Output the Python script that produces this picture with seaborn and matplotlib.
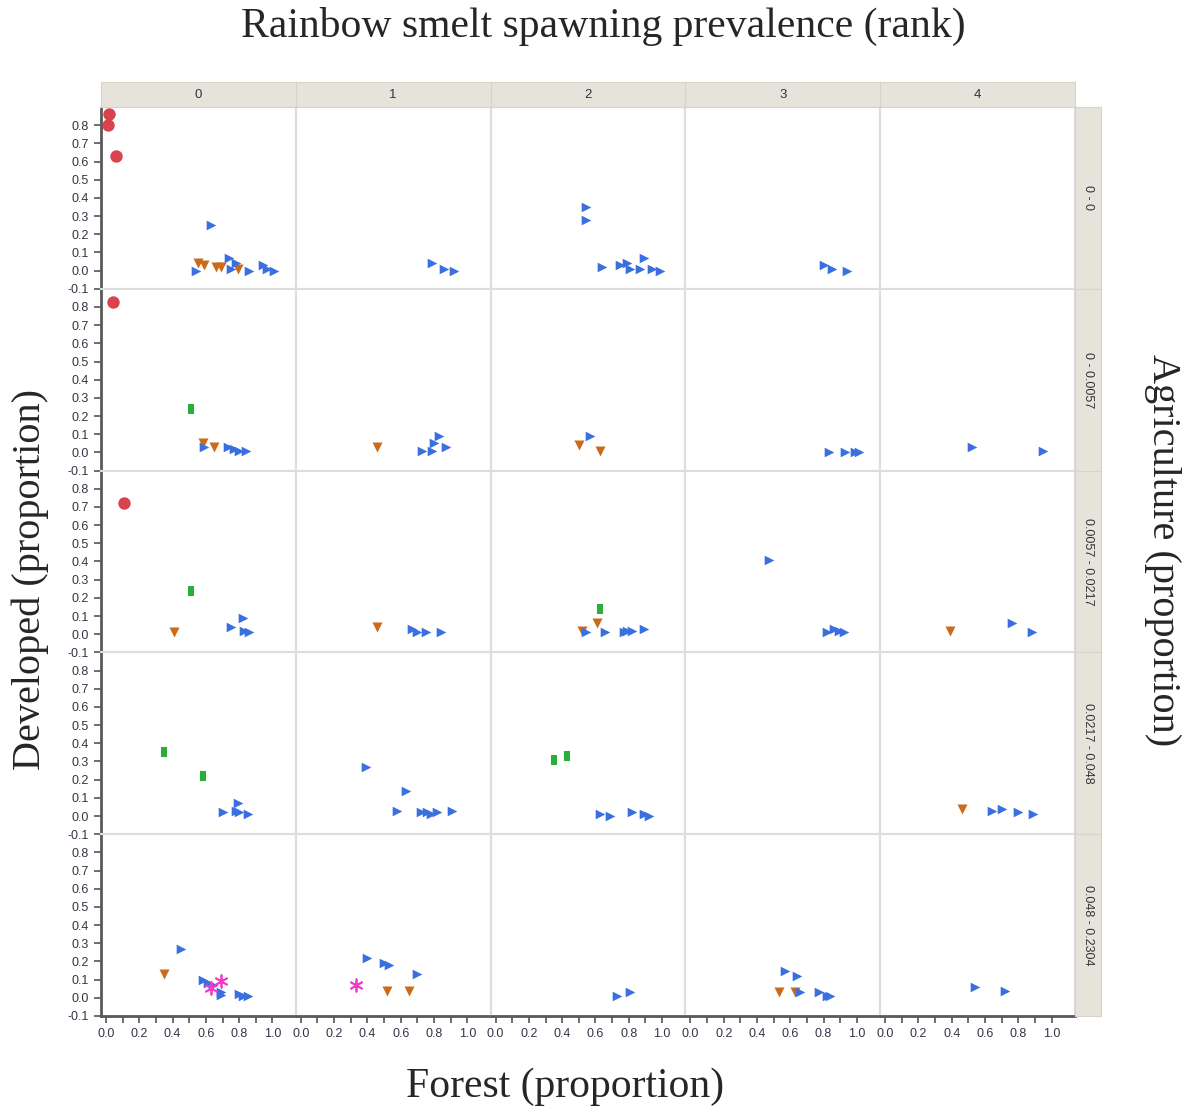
import pandas as pd
import numpy as np
import matplotlib.pyplot as plt
import seaborn as sns
from matplotlib.ticker import FixedLocator

# Facet levels
rank_levels = [0, 1, 2, 3, 4]
agri_levels = ["0 - 0", "0 - 0.0057", "0.0057 - 0.0217", "0.0217 - 0.048", "0.048 - 0.2304"]

# Points per group: (agriculture bin index, rank, forest, developed)
group_a = [(0, 0, 0.02, 0.86), (0, 0, 0.01, 0.80), (0, 0, 0.06, 0.63),
           (1, 0, 0.04, 0.83), (2, 0, 0.11, 0.72)]

group_c = [(1, 0, 0.51, 0.24), (2, 0, 0.51, 0.24), (2, 2, 0.63, 0.14),
           (3, 0, 0.35, 0.35), (3, 0, 0.58, 0.22), (3, 2, 0.35, 0.31), (3, 2, 0.43, 0.33)]

group_e = [(4, 0, 0.69, 0.09), (4, 0, 0.63, 0.055), (4, 1, 0.33, 0.07)]

group_d = [(0, 0, 0.55, 0.04), (0, 0, 0.59, 0.03), (0, 0, 0.66, 0.02), (0, 0, 0.69, 0.02), (0, 0, 0.79, 0.01),
           (1, 0, 0.58, 0.05), (1, 0, 0.65, 0.03), (1, 1, 0.46, 0.03), (1, 2, 0.50, 0.04), (1, 2, 0.63, 0.01),
           (2, 0, 0.41, 0.01), (2, 1, 0.46, 0.04), (2, 2, 0.52, 0.02), (2, 2, 0.61, 0.06), (2, 4, 0.39, 0.02),
           (3, 4, 0.46, 0.04),
           (4, 0, 0.35, 0.13), (4, 1, 0.52, 0.04), (4, 1, 0.65, 0.04), (4, 3, 0.53, 0.03), (4, 3, 0.63, 0.03)]

group_b = [(0, 0, 0.63, 0.25), (0, 0, 0.54, 0.00), (0, 0, 0.74, 0.07), (0, 0, 0.78, 0.04), (0, 0, 0.75, 0.01),
           (0, 0, 0.86, 0.00), (0, 0, 0.94, 0.03), (0, 0, 0.97, 0.01), (0, 0, 1.01, 0.00),
           (0, 1, 0.79, 0.04), (0, 1, 0.86, 0.01), (0, 1, 0.92, 0.00),
           (0, 2, 0.54, 0.35), (0, 2, 0.54, 0.28), (0, 2, 0.64, 0.02), (0, 2, 0.75, 0.03), (0, 2, 0.79, 0.04),
           (0, 2, 0.81, 0.01), (0, 2, 0.89, 0.07), (0, 2, 0.87, 0.01), (0, 2, 0.94, 0.01), (0, 2, 0.99, 0.00),
           (0, 3, 0.80, 0.03), (0, 3, 0.85, 0.01), (0, 3, 0.94, 0.00),
           (1, 0, 0.59, 0.03), (1, 0, 0.73, 0.03), (1, 0, 0.77, 0.02), (1, 0, 0.80, 0.01), (1, 0, 0.84, 0.01),
           (1, 1, 0.73, 0.01), (1, 1, 0.79, 0.01), (1, 1, 0.80, 0.05), (1, 1, 0.83, 0.09), (1, 1, 0.87, 0.03),
           (1, 2, 0.57, 0.09),
           (1, 3, 0.83, 0.00), (1, 3, 0.93, 0.00), (1, 3, 0.99, 0.00), (1, 3, 1.01, 0.00),
           (1, 4, 0.52, 0.03), (1, 4, 0.95, 0.01),
           (2, 0, 0.75, 0.04), (2, 0, 0.82, 0.09), (2, 0, 0.83, 0.02), (2, 0, 0.86, 0.01),
           (2, 1, 0.67, 0.03), (2, 1, 0.70, 0.01), (2, 1, 0.75, 0.01), (2, 1, 0.84, 0.01),
           (2, 2, 0.54, 0.01), (2, 2, 0.66, 0.01), (2, 2, 0.77, 0.01), (2, 2, 0.79, 0.02), (2, 2, 0.82, 0.02),
           (2, 2, 0.89, 0.03),
           (2, 3, 0.47, 0.41), (2, 3, 0.82, 0.01), (2, 3, 0.86, 0.03), (2, 3, 0.89, 0.02), (2, 3, 0.92, 0.01),
           (2, 4, 0.76, 0.06), (2, 4, 0.88, 0.01),
           (3, 0, 0.70, 0.02), (3, 0, 0.79, 0.07), (3, 0, 0.78, 0.03), (3, 0, 0.80, 0.02), (3, 0, 0.85, 0.01),
           (3, 1, 0.39, 0.27), (3, 1, 0.63, 0.14), (3, 1, 0.58, 0.03), (3, 1, 0.72, 0.02), (3, 1, 0.76, 0.02),
           (3, 1, 0.78, 0.01), (3, 1, 0.82, 0.02), (3, 1, 0.91, 0.03),
           (3, 2, 0.63, 0.01), (3, 2, 0.69, 0.00), (3, 2, 0.82, 0.02), (3, 2, 0.89, 0.01), (3, 2, 0.92, 0.00),
           (3, 4, 0.64, 0.03), (3, 4, 0.70, 0.04), (3, 4, 0.80, 0.02), (3, 4, 0.89, 0.01),
           (4, 0, 0.45, 0.27), (4, 0, 0.58, 0.10), (4, 0, 0.61, 0.08), (4, 0, 0.64, 0.07), (4, 0, 0.69, 0.03),
           (4, 0, 0.69, 0.015), (4, 0, 0.80, 0.02), (4, 0, 0.82, 0.01), (4, 0, 0.85, 0.01),
           (4, 1, 0.40, 0.22), (4, 1, 0.50, 0.19), (4, 1, 0.53, 0.18), (4, 1, 0.70, 0.13),
           (4, 2, 0.73, 0.01), (4, 2, 0.81, 0.03),
           (4, 3, 0.57, 0.15), (4, 3, 0.64, 0.12), (4, 3, 0.66, 0.03), (4, 3, 0.77, 0.03), (4, 3, 0.82, 0.01),
           (4, 3, 0.84, 0.01),
           (4, 4, 0.54, 0.06), (4, 4, 0.72, 0.04)]

group_points = {"A": group_a, "B": group_b, "C": group_c, "D": group_d, "E": group_e}
group_order = ["A", "C", "D", "B", "E"]

# thin vertical bar marker for group C
bar_marker = [(-0.27, -0.5), (0.27, -0.5), (0.27, 0.5), (-0.27, 0.5), (-0.27, -0.5)]
group_markers = {"A": "o", "B": ">", "C": bar_marker, "D": "v", "E": (6, 2, 0)}
group_colors = {"A": "#d9434e", "B": "#3a6fe0", "C": "#2aae3a", "D": "#cc6a1c", "E": "#f03cc8"}
group_sizes = {"A": 80, "B": 48, "C": 55, "D": 52, "E": 80}

rows = []
for grp, pts in group_points.items():
    for a, r, f, d in pts:
        rows.append({"group": grp, "agri": agri_levels[a], "rank": r, "forest": f, "developed": d})
df = pd.DataFrame(rows)

y_ticks = [-0.1, 0.0, 0.1, 0.2, 0.3, 0.4, 0.5, 0.6, 0.7, 0.8]
x_ticks = [0.0, 0.2, 0.4, 0.6, 0.8, 1.0]
x_minor = [0.1, 0.3, 0.5, 0.7, 0.9]


def draw_groups(data, **kws):
    ax = plt.gca()
    for grp in group_order:
        sub = data[data["group"] == grp]
        if len(sub) == 0:
            continue
        lw = 1.3 if grp == "E" else 0
        sns.scatterplot(data=sub, x="forest", y="developed", marker=group_markers[grp],
                        color=group_colors[grp], s=group_sizes[grp], linewidth=lw,
                        edgecolor=group_colors[grp], ax=ax, zorder=3)


sns.set_style("white")
g = sns.FacetGrid(df, row="agri", col="rank", row_order=agri_levels, col_order=rank_levels,
                  sharex=True, sharey=True, despine=False, height=2, aspect=1)
g.map_dataframe(draw_groups)

fig = g.figure
fig.set_size_inches(11.93, 11.12)
fig.subplots_adjust(left=101 / 1193, right=1075 / 1193, top=1 - 107 / 1112,
                    bottom=1 - 1016 / 1112, wspace=0, hspace=0)

tick_color = "#343448"
for i in range(5):
    for j in range(5):
        ax = g.axes[i, j]
        ax.set_title("")
        ax.set_xlabel("")
        ax.set_ylabel("")
        ax.set_xlim(-0.03, 1.14)
        ax.set_ylim(-0.1, 0.9)
        ax.yaxis.set_major_locator(FixedLocator(y_ticks))
        ax.xaxis.set_major_locator(FixedLocator(x_ticks))
        ax.xaxis.set_minor_locator(FixedLocator(x_minor))
        for sp in ax.spines.values():
            sp.set_color("#dddddd")
            sp.set_linewidth(1.5)
        ax.tick_params(which="both", direction="out", length=5, width=1.2, color="#555555",
                       labelsize=9, labelcolor=tick_color,
                       left=(j == 0), bottom=(i == 4))
        if j == 0:
            ax.spines["left"].set_color("#5a5a5a")
            ax.spines["left"].set_linewidth(2)
            ax.set_yticklabels([f"{t:.1f}" for t in y_ticks], fontfamily="Liberation Sans")
        if i == 4:
            ax.spines["bottom"].set_color("#5a5a5a")
            ax.spines["bottom"].set_linewidth(2)
            ax.set_xticklabels([f"{t:.1f}" for t in x_ticks], fontfamily="Liberation Sans")

# strips
strip_bg = "#e6e4da"
for j, rk in enumerate(rank_levels):
    pos = g.axes[0, j].get_position()
    sax = fig.add_axes([pos.x0, pos.y1, pos.width, 25 / 1112])
    sax.set_facecolor(strip_bg)
    sax.set_xticks([])
    sax.set_yticks([])
    for sp in sax.spines.values():
        sp.set_color("#d6d4ca")
    sax.text(0.5, 0.5, str(rk), ha="center", va="center", fontsize=9.5,
             color="#333333", fontfamily="Liberation Sans", transform=sax.transAxes)

for i, lv in enumerate(agri_levels):
    pos = g.axes[i, 4].get_position()
    sax = fig.add_axes([pos.x1, pos.y0, 26 / 1193, pos.height])
    sax.set_facecolor(strip_bg)
    sax.set_xticks([])
    sax.set_yticks([])
    for sp in sax.spines.values():
        sp.set_color("#d6d4ca")
    sax.text(0.5, 0.5, lv, ha="center", va="center", fontsize=9, rotation=-90,
             color="#333333", fontfamily="Liberation Sans", transform=sax.transAxes)

serif = ["Liberation Serif", "DejaVu Serif"]
fig.text(603 / 1193, 1 - 26 / 1112, "Rainbow smelt spawning prevalence (rank)",
         ha="center", va="center", fontsize=30, family=serif)
fig.text(565 / 1193, 1 - 1087 / 1112, "Forest (proportion)",
         ha="center", va="center", fontsize=30, family=serif)
fig.text(30 / 1193, 1 - 580 / 1112, "Developed (proportion)", rotation=90,
         ha="center", va="center", fontsize=29, family=serif)
fig.text(1163 / 1193, 1 - 550 / 1112, "Agriculture (proportion)", rotation=-90,
         ha="center", va="center", fontsize=29, family=serif)

fig.savefig("out.png", dpi=100)
